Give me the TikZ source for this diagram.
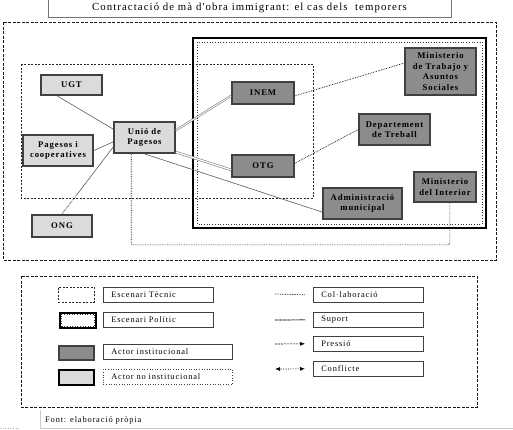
\documentclass[tikz,border=0pt]{standalone}
\usepackage{fontspec}
\setmainfont{Liberation Serif}
\newfontfamily\widefont[LetterSpace=10]{Liberation Serif}
\usetikzlibrary{arrows.meta,positioning,calc}
\definecolor{instgray}{gray}{0.55}
\definecolor{noinstgray}{gray}{0.86}
\definecolor{edgegray}{gray}{0.25}

\begin{document}
\begin{tikzpicture}[x=1pt, y=-1pt,
  actor/.style={draw=edgegray, line width=1.7pt, align=center, inner sep=1pt,
                font=\widefont\bfseries\fontsize{8.7}{10.5}\selectfont},
  inst/.style={actor, fill=instgray},
  noinst/.style={actor, fill=noinstgray},
  tecnic/.style={draw=black!85, dash pattern=on 2pt off 1.5pt, line width=0.6pt},
  politic/.style={draw=black, line width=2.6pt},
  outer/.style={draw=black!90, dash pattern=on 3pt off 1.5pt, line width=0.7pt},
  link/.style={draw=black!65, line width=0.6pt},
  colab/.style={draw=black, dash pattern=on 0.7pt off 1pt, line width=0.7pt},
  suport/.style={draw=black!55, double=white, double distance=0.9pt,
                 line width=0.55pt},
  pressio/.style={draw=black, dash pattern=on 2pt off 1pt, line width=0.6pt},
  labbox/.style={draw=black!75, line width=0.6pt, anchor=north west,
                 minimum height=15pt, inner ysep=0pt, inner xsep=8pt,
                 align=left, font=\widefont\fontsize{8.4}{9}\selectfont}]
\useasboundingbox (0,0) rectangle (513,429);

% title
\node[draw=black!55, minimum width=403pt, minimum height=19pt, inner sep=0pt,
      font=\widefont\fontsize{10.8}{12}\selectfont] (title) at (249.5,8)
  {Contractació de mà d'obra immigrant: el cas dels\ \ temporers};

% scenes
\draw[outer] (3,22) rectangle (496,260);
\draw[tecnic] (21,64) rectangle (313,198);
\draw[politic] (193,38) rectangle (486,228);
\draw[black!80, dotted, line width=0.7pt] (197,42) rectangle (482,224);

% actors
\node[noinst, minimum width=61pt, minimum height=20pt] (ugt) at (71.5,85) {UGT};
\node[noinst, minimum width=70pt, minimum height=31pt] (coop) at (58,150.5)
  {Pagesos i\\ cooperatives};
\node[noinst, minimum width=61pt, minimum height=31pt] (unio) at (144.5,137.5)
  {Unió de\\ Pagesos};
\node[noinst, minimum width=60pt, minimum height=22pt] (ong) at (62,226) {ONG};
\node[inst, minimum width=62pt, minimum height=22pt] (inem) at (263,93) {INEM};
\node[inst, minimum width=62pt, minimum height=22pt] (otg) at (263,166) {OTG};
\node[inst, minimum width=71pt, minimum height=47pt] (mintreb) at (440.5,71.5)
  {Ministerio\\ de Trabajo y\\ Asuntos\\ Sociales};
\node[inst, minimum width=71pt, minimum height=31pt] (dept) at (394.5,129.5)
  {Departement\\ de Treball};
\node[inst, minimum width=62pt, minimum height=30pt] (minint) at (445,187)
  {Ministerio\\ del Interior};
\node[inst, minimum width=79pt, minimum height=31pt] (admin) at (362.5,203.5)
  {Administració\\ municipal};

% relations
\draw[link] (ugt.217) -- (unio.165);
\draw[link] (coop.east) -- (unio.188);
\draw[link] (unio.197) -- ($(ong.north)!0.3!(unio.197)$);
\draw[colab] ($(ong.north)!0.3!(unio.197)$) -- (ong.north);
\draw[suport] (unio.13) -- (inem.185);
\draw[suport, double distance=1.3pt] (unio.335) -- (otg.187);
\draw[link] (unio.south) -- (admin.192);
\draw[colab] (inem.355) -- (mintreb.167);
\draw[colab] (otg.5) -- (dept.west);
\draw[colab, rounded corners=2pt] (minint.287) -- ++(0,42) -| (unio.231);

% legend
\draw[outer] (21,276) rectangle (477,407);
\node[tecnic, minimum width=36pt, minimum height=15pt, inner sep=0pt,
      anchor=north west] (symtec) at (58,287) {};
\node[politic, minimum width=36pt, minimum height=15pt, inner sep=0pt,
      anchor=north west] (sympol) at (58.5,311.5) {};
\draw[black!80, dotted, line width=0.6pt] ([shift={(2.5,-2.5)}]sympol.south west)
  rectangle ([shift={(-2.5,2.5)}]sympol.north east);
\node[draw=edgegray, fill=instgray, line width=1.7pt, minimum width=35pt,
      minimum height=14pt, inner sep=0pt, anchor=north west] (syminst) at (58,345) {};
\node[draw=black, fill=noinstgray, line width=1.9pt, minimum width=35pt,
      minimum height=15pt, inner sep=0pt, anchor=north west] (symnoinst) at (58,369) {};

\node[labbox, text width=94pt] (labtec) at (103,287) {Escenari Tècnic};
\node[labbox, text width=94pt] (labpol) at (103,312) {Escenari Polític};
\node[labbox, text width=113pt] (labinst) at (103,344) {Actor institucional};
\node[labbox, text width=113pt, dotted] (labnoinst) at (103,369) {Actor no institucional};

\node[labbox, text width=94pt] (labcol) at (313,287) {Col·laboració};
\node[labbox, text width=94pt] (labsup) at (313,312) {Suport};
\node[labbox, text width=94pt] (labpre) at (313,336) {Pressió};
\node[labbox, text width=94pt] (labcon) at (313,361) {Conflicte};

\coordinate (keycol) at (275,294);
\coordinate (keysup) at (275,320);
\coordinate (keypre) at (275,344);
\coordinate (keycon) at (275,369);
\draw[colab] (keycol) -- ([xshift=-8pt]labcol.west);
\draw[black!70, line width=1.2pt, dash pattern=on 0.8pt off 0.5pt]
  (keysup) -- ([xshift=-8pt]labsup.west);
\draw[pressio, -{Latex[length=5pt,width=4pt]}] (keypre) -- ([xshift=-8pt]labpre.west);
\draw[colab, {Latex[length=5pt,width=4pt]}-{Latex[length=5pt,width=4pt]}]
  (keycon) -- ([xshift=-8pt]labcon.west);

% source
\draw[black!20, line width=0.6pt] (40,410) -- (40,429);
\draw[black!20, line width=0.6pt] (40,428) -- (513,428);
\draw[black!30, dotted, line width=0.6pt] (0,428) -- (20,428);
\node[anchor=west, inner sep=0pt, font=\widefont\fontsize{8.4}{9}\selectfont]
  (font) at (45,420) {Font: elaboració pròpia};
\end{tikzpicture}
\end{document}
